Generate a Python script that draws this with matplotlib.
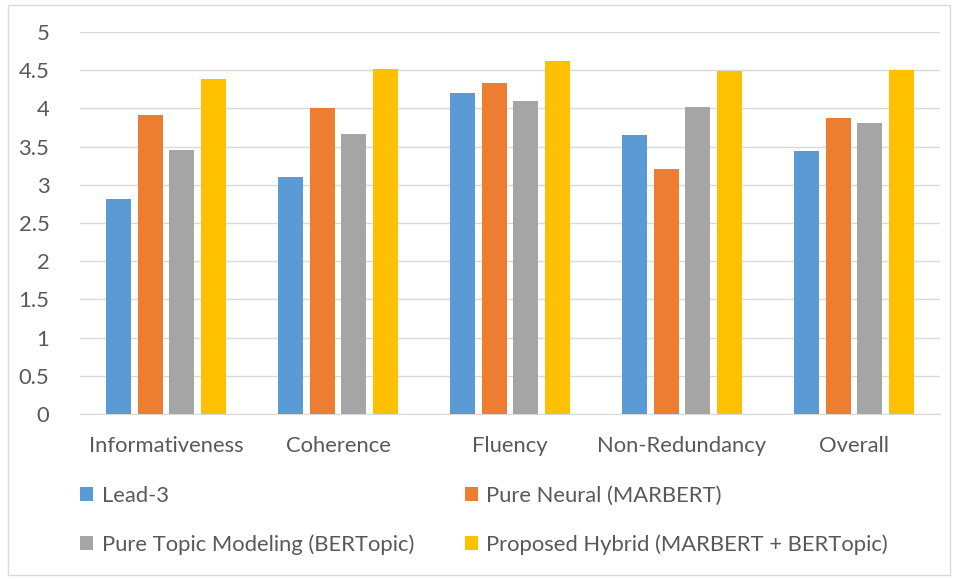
import matplotlib.pyplot as plt
import numpy as np
from matplotlib.patches import Rectangle

categories = ['Informativeness', 'Coherence', 'Fluency', 'Non-Redundancy', 'Overall']
series = ['Lead-3', 'Pure Neural (MARBERT)', 'Pure Topic Modeling (BERTopic)',
          'Proposed Hybrid (MARBERT + BERTopic)']
lead3 = [2.81, 3.10, 4.20, 3.65, 3.44]
neural = [3.92, 4.01, 4.33, 3.21, 3.87]
topic = [3.45, 3.67, 4.10, 4.02, 3.81]
hybrid = [4.38, 4.51, 4.62, 4.49, 4.50]
colors = ['#5b9bd5', '#ed7d31', '#a5a5a5', '#ffc000']
yticks = [0, 0.5, 1, 1.5, 2, 2.5, 3, 3.5, 4, 4.5, 5]

plt.rcParams['font.family'] = ['Lato', 'DejaVu Sans']
txt = '#595959'
fs = 15.8

fig = plt.figure(figsize=(9.58, 5.81), dpi=100)
fig.patches.append(Rectangle((8 / 958, 1 - 575 / 581), 942 / 958, 570 / 581,
                             transform=fig.transFigure, fill=False,
                             edgecolor='#d9d9d9', linewidth=1))
ax = fig.add_axes([80 / 958, 1 - 414 / 581, 860 / 958, 382 / 581])

x = np.arange(len(categories))
slot = 0.183
width = 0.145
bars = []
for i, (vals, name) in enumerate(zip([lead3, neural, topic, hybrid], series)):
    bars.append(ax.bar(x + (i - 1.5) * slot, vals, width, color=colors[i],
                       label=name, zorder=3))

ax.set_xlim(-0.5, len(categories) - 0.5)
ax.set_ylim(0, 5)
ax.set_yticks(yticks)
ax.set_yticklabels([f'{t:g}' for t in yticks])
ax.set_xticks(x)
ax.set_xticklabels(categories)
ax.grid(axis='y', color='#d9d9d9', linewidth=1, zorder=0)
for s in ['top', 'right', 'left']:
    ax.spines[s].set_visible(False)
ax.spines['bottom'].set_color('#d9d9d9')
ax.tick_params(axis='both', length=0, colors=txt, labelsize=fs)
ax.tick_params(axis='y', pad=22)
ax.tick_params(axis='x', pad=16)

# row-major order like the original legend
order = [0, 2, 1, 3]
fig.legend([bars[k] for k in order], [series[k] for k in order],
           loc='upper left', bbox_to_anchor=(60 / 958, 1 - 466 / 581), ncol=2,
           frameon=False, fontsize=fs, labelcolor=txt, handlelength=0.6,
           handleheight=0.6, handletextpad=0.4, columnspacing=2.3,
           labelspacing=1.3)

fig.savefig('out.png', dpi=100)
